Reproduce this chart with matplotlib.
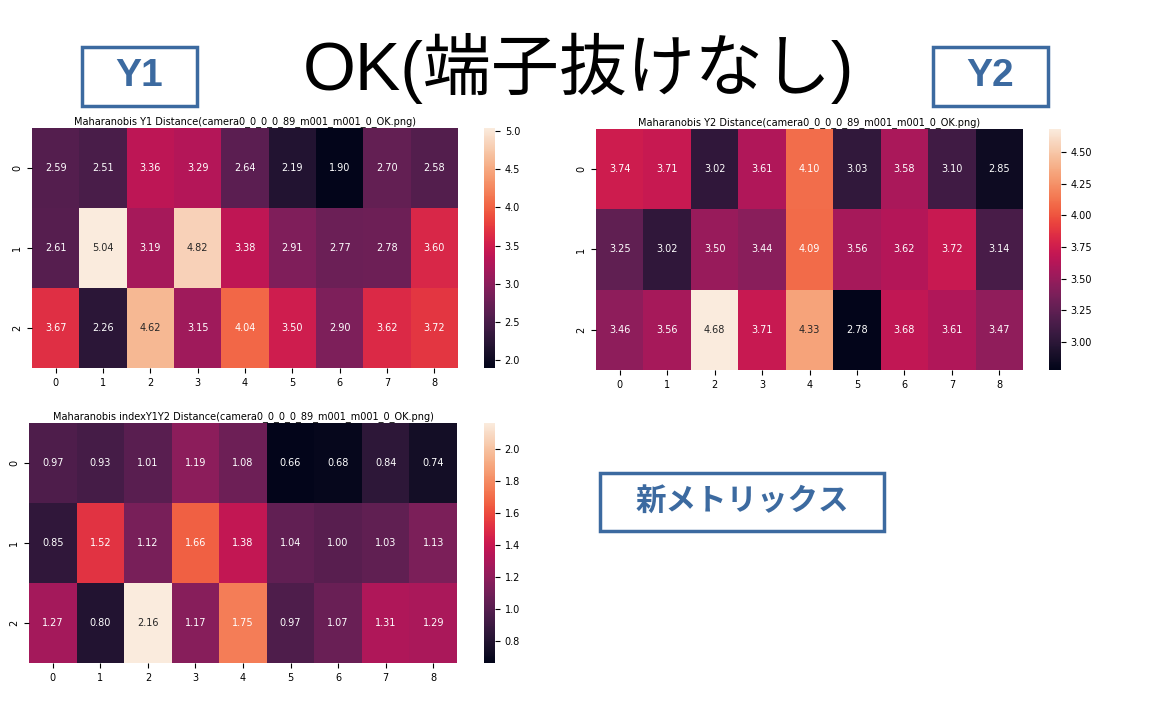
import numpy as np
import matplotlib
matplotlib.use("Agg")
import matplotlib.pyplot as plt
import matplotlib.patches as patches
import seaborn as sns

# Mahalanobis distance values (3 rows x 9 columns)
y1_dist = [
    [2.59, 2.51, 3.36, 3.29, 2.64, 2.19, 1.90, 2.70, 2.58],
    [2.61, 5.04, 3.19, 4.82, 3.38, 2.91, 2.77, 2.78, 3.60],
    [3.67, 2.26, 4.62, 3.15, 4.04, 3.50, 2.90, 3.62, 3.72],
]
y2_dist = [
    [3.74, 3.71, 3.02, 3.61, 4.10, 3.03, 3.58, 3.10, 2.85],
    [3.25, 3.02, 3.50, 3.44, 4.09, 3.56, 3.62, 3.72, 3.14],
    [3.46, 3.56, 4.68, 3.71, 4.33, 2.78, 3.68, 3.61, 3.47],
]
y1y2_index = [
    [0.97, 0.93, 1.01, 1.19, 1.08, 0.66, 0.68, 0.84, 0.74],
    [0.85, 1.52, 1.12, 1.66, 1.38, 1.04, 1.00, 1.03, 1.13],
    [1.27, 0.80, 2.16, 1.17, 1.75, 0.97, 1.07, 1.31, 1.29],
]

fname = "camera0_0_0_0_89_m001_m001_0_OK.png"
titles = [
    "Maharanobis Y1 Distance(" + fname + ")",
    "Maharanobis Y2 Distance(" + fname + ")",
    "Maharanobis indexY1Y2 Distance(" + fname + ")",
]
cbar_ticks = [
    [2.0, 2.5, 3.0, 3.5, 4.0, 4.5, 5.0],
    [3.00, 3.25, 3.50, 3.75, 4.00, 4.25, 4.50],
    [0.8, 1.0, 1.2, 1.4, 1.6, 1.8, 2.0],
]
cbar_fmt = ["%.1f", "%.2f", "%.1f"]

plt.rcParams['font.family'] = ['DejaVu Sans', 'Noto Sans CJK JP']

W, H = 1163, 701
fig = plt.figure(figsize=(W / 100, H / 100), dpi=100)


def px_axes(l, t, r, b):
    return fig.add_axes([l / W, 1 - b / H, (r - l) / W, (b - t) / H])


# heatmap and colorbar boxes in pixels (left, top, right, bottom)
boxes = [
    ((32, 128, 458, 368), (484, 128, 495, 368)),
    ((596, 129, 1023, 370), (1049, 129, 1061, 370)),
    ((29, 423, 457, 663), (484, 423, 495, 663)),
]

for data, title, (hb, cb), ticks, fmt in zip(
        [y1_dist, y2_dist, y1y2_index], titles, boxes, cbar_ticks, cbar_fmt):
    ax = px_axes(*hb)
    cax = px_axes(*cb)
    sns.heatmap(np.array(data), ax=ax, cbar_ax=cax, annot=True, fmt=".2f",
                annot_kws={"fontsize": 7})
    ax.set_title(title, fontsize=7, pad=3)
    ax.tick_params(labelsize=7)
    ax.set_yticklabels(ax.get_yticklabels(), rotation=90, va="center")
    cax.set_yticks(ticks)
    cax.set_yticklabels([fmt % t for t in ticks])
    cax.tick_params(labelsize=7)

# big slide title
fig.text(578 / W, 1 - 68 / H, "OK(端子抜けなし)", fontsize=49,
         ha="center", va="center", family=['Liberation Sans', 'Noto Sans CJK JP'])

# blue framed labels
blue = "#3c6aa0"
labels = [
    ("Y1", (82, 47, 197, 106), 28, ['Liberation Sans']),
    ("Y2", (933, 47, 1048, 106), 28, ['Liberation Sans']),
    ("新メトリックス", (600, 473, 884, 531), 22, ['Noto Sans CJK JP']),
]
for txt, (l, t, r, b), fs, fam in labels:
    rect = patches.Rectangle((l / W, 1 - b / H), (r - l) / W, (b - t) / H,
                             transform=fig.transFigure, fill=False,
                             edgecolor=blue, linewidth=2.5)
    fig.add_artist(rect)
    fig.text((l + r) / 2 / W, 1 - (t + b) / 2 / H, txt, fontsize=fs,
             fontweight="bold", color=blue, ha="center", va="center",
             family=fam)

fig.savefig("out.png", dpi=100)
